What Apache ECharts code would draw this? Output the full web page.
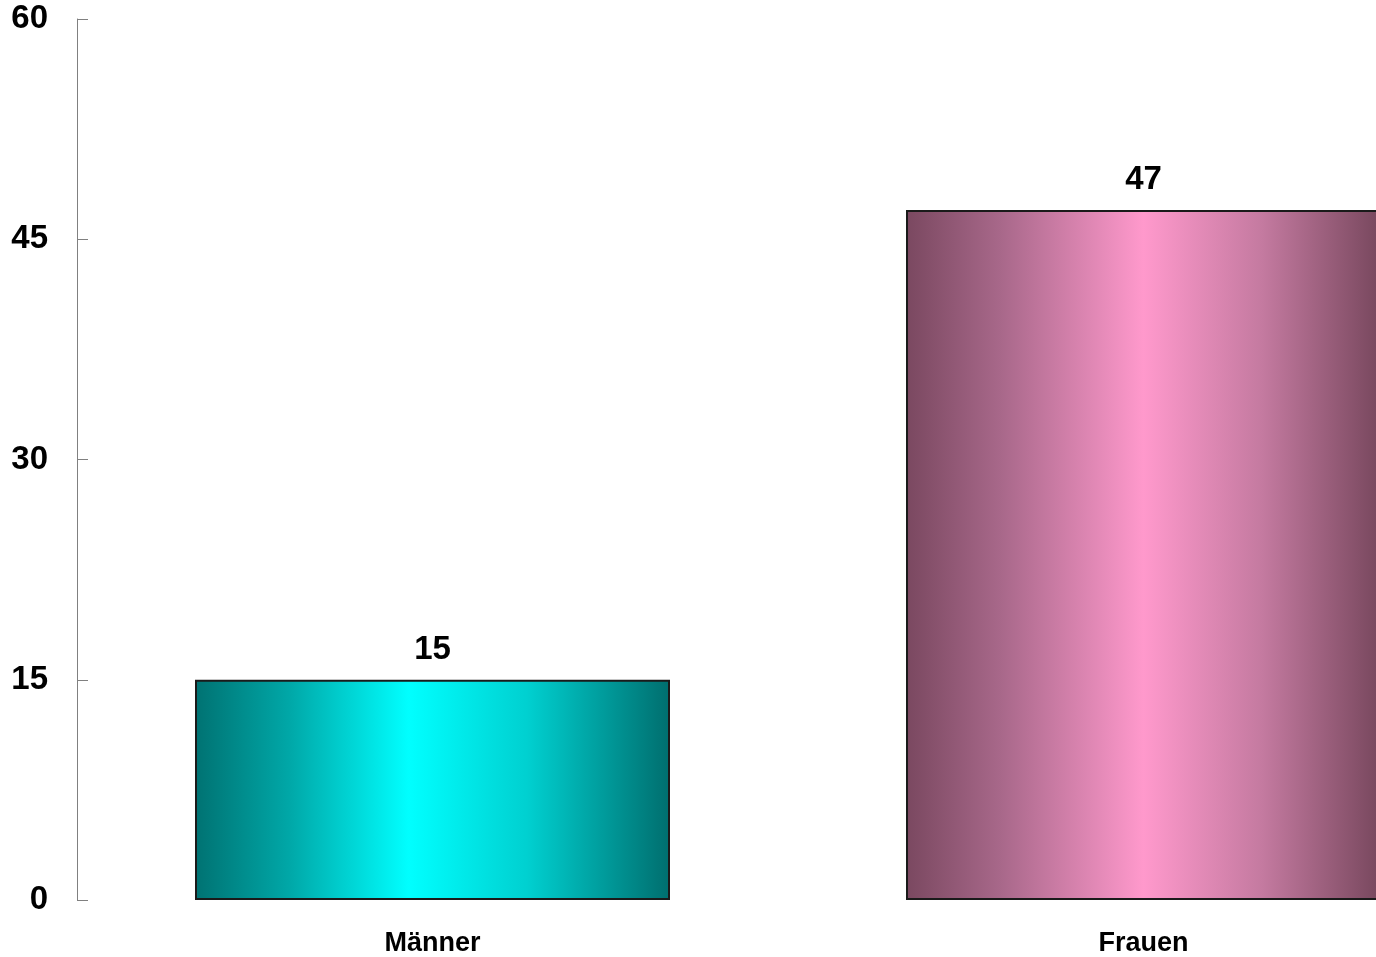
<!DOCTYPE html>
<html>
<head>
<meta charset="utf-8">
<script src="https://cdn.jsdelivr.net/npm/echarts@6/dist/echarts.min.js"></script>
<style>
html,body{margin:0;padding:0;background:#fff;}
#chart{width:1376px;height:957px;}
</style>
</head>
<body>
<div id="chart"></div>
<script>
const categories = ['Männer', 'Frauen'];
const values = [15, 47];
const yTicks = [0, 15, 30, 45, 60];

const gradients = [
  [
    {offset: 0, color: '#007272'},
    {offset: 0.2, color: '#00a8a8'},
    {offset: 0.45, color: '#00ffff'},
    {offset: 0.7, color: '#00d0d0'},
    {offset: 1, color: '#006e6e'}
  ],
  [
    {offset: 0, color: '#7a4860'},
    {offset: 0.2, color: '#a8688a'},
    {offset: 0.5, color: '#ff99cc'},
    {offset: 0.75, color: '#c47aa0'},
    {offset: 1, color: '#77475d'}
  ]
];

const chart = echarts.init(document.getElementById('chart'), null, {renderer: 'canvas'});
const font = '"Liberation Sans", Arial, sans-serif';

chart.setOption({
  animation: false,
  backgroundColor: '#ffffff',
  grid: {left: 77, top: 19, bottom: 57, width: 1422, containLabel: false, outerBoundsMode: 'none'},
  xAxis: {
    type: 'category',
    data: categories,
    axisLine: {show: false},
    axisTick: {show: false},
    axisLabel: {
      margin: 30,
      fontFamily: font,
      fontWeight: 'bold',
      fontSize: 27,
      color: '#000'
    }
  },
  yAxis: {
    type: 'value',
    min: yTicks[0],
    max: yTicks[yTicks.length - 1],
    interval: yTicks[1] - yTicks[0],
    splitLine: {show: false},
    axisLine: {show: true, lineStyle: {color: '#808080', width: 1}},
    axisTick: {show: true, inside: true, length: 11, lineStyle: {color: '#808080', width: 1}},
    axisLabel: {
      margin: 29,
      padding: [6, 0, 0, 0],
      fontFamily: font,
      fontWeight: 'bold',
      fontSize: 33,
      color: '#000'
    }
  },
  series: [{
    type: 'bar',
    barWidth: 475,
    data: values.map((v, i) => ({
      value: v,
      itemStyle: {
        color: {type: 'linear', x: 0, y: 0, x2: 1, y2: 0, colorStops: gradients[i]},
        borderColor: '#1a1a1a',
        borderWidth: 2
      }
    })),
    label: {
      show: true,
      position: 'top',
      distance: 13,
      fontFamily: font,
      fontWeight: 'bold',
      fontSize: 33,
      color: '#000'
    }
  }]
});
</script>
</body>
</html>
